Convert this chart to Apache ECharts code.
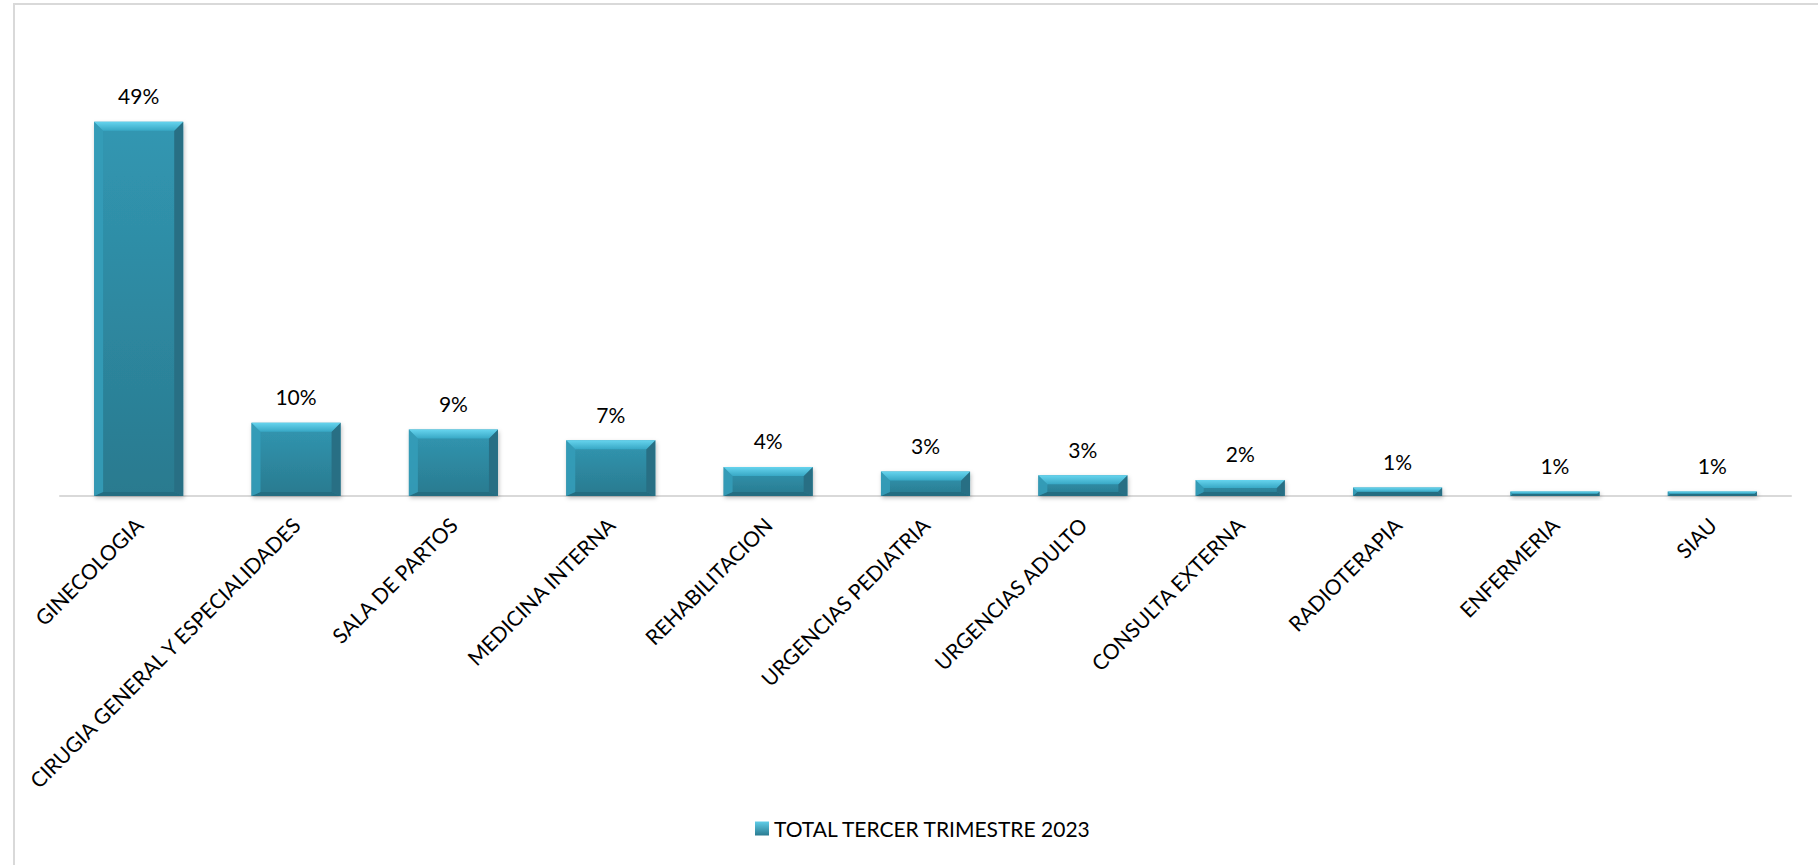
<!DOCTYPE html>
<html>
<head>
<meta charset="utf-8">
<title>TOTAL TERCER TRIMESTRE 2023</title>
<script src="https://cdn.jsdelivr.net/npm/echarts@6/dist/echarts.min.js"></script>
<style>
  html, body { margin: 0; padding: 0; background: #ffffff; }
  #chart { width: 1818px; height: 865px; }
</style>
</head>
<body>
<div id="chart"></div>
<script>
// Share of cases per service, third quarter 2023 (percent)
const categories = [
  'GINECOLOGIA',
  'CIRUGIA GENERAL Y ESPECIALIDADES',
  'SALA DE PARTOS',
  'MEDICINA INTERNA',
  'REHABILITACION',
  'URGENCIAS PEDIATRIA',
  'URGENCIAS ADULTO',
  'CONSULTA EXTERNA',
  'RADIOTERAPIA',
  'ENFERMERIA',
  'SIAU'
];
const seriesName = 'TOTAL TERCER TRIMESTRE 2023';
const values = [49, 9.6, 8.7, 7.3, 3.8, 3.2, 2.7, 2.1, 1.1, 0.6, 0.6];

const FONT = 'Lato, "Open Sans", sans-serif';
const TEXT_SIZE = 21;

function pct(v) { return Math.round(v) + '%'; }

const bodyFill = new echarts.graphic.LinearGradient(0, 0, 0, 1, [
  { offset: 0, color: '#3197b2' },
  { offset: 1, color: '#2a7a8f' }
]);

// Bevelled bar: body plus four edge facets, value label on top
function renderBar(params, api) {
  const idx = api.value(0);
  const v = api.value(1);
  const top = api.coord([idx, v]);
  const base = api.coord([idx, 0]);
  const bw = api.size([1, 0])[0] * 0.566;
  const x0 = top[0] - bw / 2, x1 = top[0] + bw / 2;
  const y0 = top[1], y1 = base[1];
  const h = y1 - y0;
  const b = Math.min(9, h / 2);
  const bs = Math.min(4, h / 2);
  return {
    type: 'group',
    children: [
      {
        type: 'rect',
        shape: { x: x0, y: y0, width: bw, height: h },
        style: {
          fill: bodyFill,
          shadowColor: 'rgba(0,0,0,0.25)', shadowBlur: 4, shadowOffsetX: 1, shadowOffsetY: 2
        }
      },
      {
        type: 'polygon',
        shape: { points: [[x0, y1], [x0 + b, y1 - bs], [x1 - b, y1 - bs], [x1, y1]] },
        style: { fill: '#246d81' }
      },
      {
        type: 'polygon',
        shape: { points: [[x0, y0], [x0 + b, y0 + b], [x0 + b, y1 - bs], [x0, y1]] },
        style: { fill: '#349cb8', opacity: 0.9 }
      },
      {
        type: 'polygon',
        shape: { points: [[x1, y0], [x1 - b, y0 + b], [x1 - b, y1 - bs], [x1, y1]] },
        style: { fill: '#286f84' }
      },
      {
        type: 'polygon',
        shape: { points: [[x0, y0], [x1, y0], [x1 - b, y0 + b], [x0 + b, y0 + b]] },
        style: {
          fill: new echarts.graphic.LinearGradient(0, 0, 0, 1, [
            { offset: 0, color: '#66d4ee' },
            { offset: 1, color: '#38a8c5' }
          ])
        }
      },
      {
        type: 'text',
        style: {
          x: top[0], y: y0 - 26,
          text: pct(v),
          fill: '#000000',
          font: TEXT_SIZE + 'px ' + FONT,
          align: 'center', verticalAlign: 'middle'
        }
      }
    ]
  };
}

const chart = echarts.init(document.getElementById('chart'), null, { renderer: 'svg' });

chart.setOption({
  animation: false,
  backgroundColor: '#ffffff',
  graphic: [{
    type: 'rect',
    shape: { x: 14, y: 4, width: 1900, height: 1000 },
    style: { fill: 'none', stroke: '#d9d9d9', lineWidth: 2 },
    silent: true
  }],
  grid: { left: 60, right: 27, top: 114, bottom: 369, containLabel: false },
  legend: {
    left: 750, top: 813,
    itemWidth: 14, itemHeight: 14, itemGap: 6,
    icon: 'rect',
    textStyle: { fontFamily: FONT, fontSize: TEXT_SIZE, color: '#000000' },
    data: [seriesName]
  },
  xAxis: {
    type: 'category',
    data: categories,
    axisTick: { show: false },
    axisLine: { lineStyle: { color: '#d9d9d9', width: 2 } },
    axisLabel: {
      interval: 0, rotate: 45, margin: 25,
      fontFamily: FONT, fontSize: TEXT_SIZE, color: '#000000'
    }
  },
  yAxis: {
    type: 'value', min: 0, max: 50,
    show: false, splitLine: { show: false }
  },
  series: [{
    name: seriesName,
    type: 'custom',
    renderItem: renderBar,
    encode: { x: 0, y: 1 },
    itemStyle: {
      color: new echarts.graphic.LinearGradient(0, 0, 0, 1, [
        { offset: 0, color: '#5fcde8' },
        { offset: 1, color: '#2a7b91' }
      ])
    },
    data: values.map((v, i) => [i, v])
  }]
});
</script>
</body>
</html>
